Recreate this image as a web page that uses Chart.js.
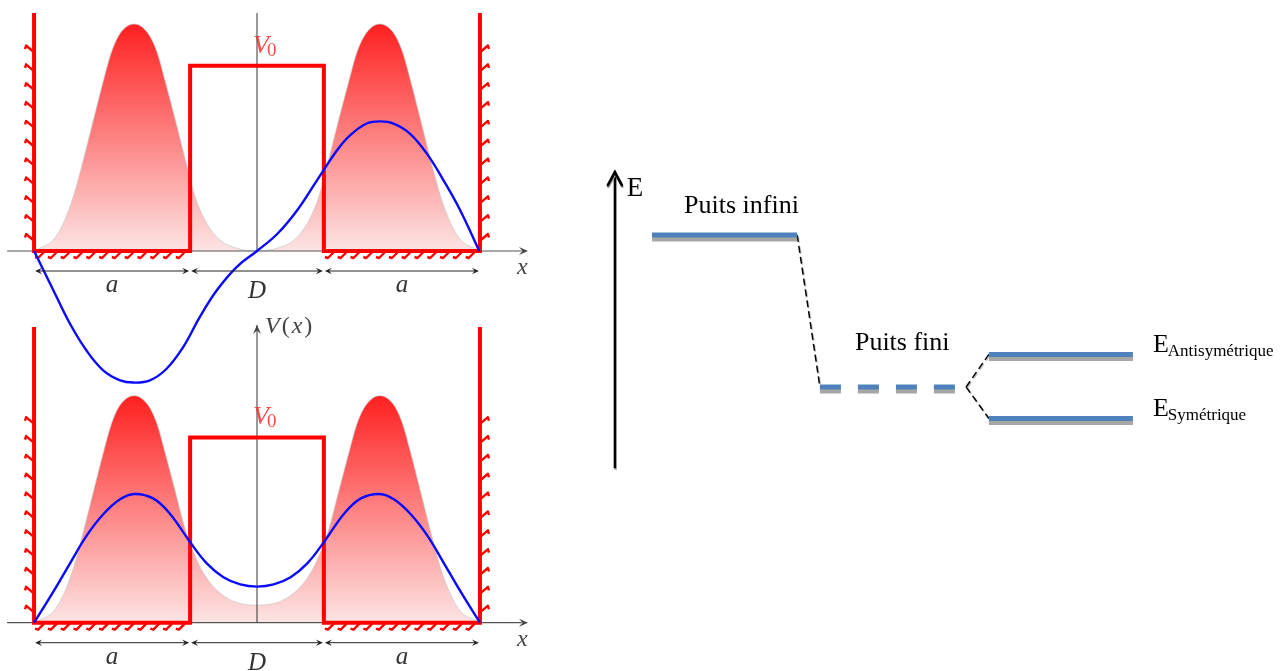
<!DOCTYPE html>
<html>
<head>
<meta charset="utf-8">
<script src="https://cdn.jsdelivr.net/npm/chart.js@4.4.1/dist/chart.umd.min.js"></script>
<style>
  html, body { margin: 0; padding: 0; background: #fff; }
  body { width: 1282px; height: 671px; position: relative; overflow: hidden; }
  canvas { position: absolute; }
  #upperWell { left: 0; top: 0; }
  #lowerWell { left: 0; top: 300px; }
  #levels { left: 560px; top: 150px; }
</style>
</head>
<body>
<canvas id="upperWell" width="540" height="400"></canvas>
<canvas id="lowerWell" width="540" height="371"></canvas>
<canvas id="levels" width="722" height="350"></canvas>
<script>
// double well geometry (same unit on x and y)
const wallX = 7.1;
const barrierX = 2.13;
const V0 = 5.9;
const wallTop = [7.58, 9.42];   // upper panel, lower panel
const yAxisTop = [7.58, 9.48];
const xAxisRange = [-7.96, 8.63];
const spanLabels = ["a", "D", "a"];

// |psi|^2, antisymmetric state (upper panel)
const densityAnti = [
  [-7.1, 0], [-6.91, 0.09], [-6.49, 0.35], [-6.17, 0.88], [-5.85, 1.73], [-5.53, 2.9],
  [-5.21, 4.17], [-4.9, 5.39], [-4.63, 6.35], [-4.36, 6.93], [-3.91, 7.23], [-3.47, 6.93],
  [-3.19, 6.35], [-2.92, 5.39], [-2.6, 4.17], [-2.28, 2.9], [-1.97, 1.73], [-1.6, 0.88],
  [-1.18, 0.35], [-0.65, 0.09], [0, 0], [0.65, 0.09], [1.18, 0.35], [1.6, 0.88],
  [1.97, 1.73], [2.28, 2.9], [2.6, 4.17], [2.92, 5.39], [3.19, 6.35], [3.47, 6.93],
  [3.91, 7.23], [4.36, 6.93], [4.63, 6.35], [4.9, 5.39], [5.21, 4.17], [5.53, 2.9],
  [5.85, 1.73], [6.17, 0.88], [6.49, 0.35], [6.91, 0.09], [7.1, 0]
];

// |psi|^2, symmetric state (lower panel)
const densitySym = [
  [-7.1, 0], [-6.91, 0.09], [-6.49, 0.35], [-6.17, 0.88], [-5.85, 1.73], [-5.53, 2.9],
  [-5.21, 4.17], [-4.9, 5.39], [-4.63, 6.35], [-4.36, 6.93], [-3.91, 7.23], [-3.47, 6.93],
  [-3.19, 6.35], [-2.92, 5.39], [-2.6, 4.17], [-2.28, 2.95], [-1.92, 2.0], [-1.56, 1.36],
  [-1.17, 0.94], [-0.64, 0.64], [0, 0.56], [0.64, 0.64], [1.17, 0.94], [1.56, 1.36],
  [1.92, 2.0], [2.28, 2.95], [2.6, 4.17], [2.92, 5.39], [3.19, 6.35], [3.47, 6.93],
  [3.91, 7.23], [4.36, 6.93], [4.63, 6.35], [4.9, 5.39], [5.21, 4.17], [5.53, 2.9],
  [5.85, 1.73], [6.17, 0.88], [6.49, 0.35], [6.91, 0.09], [7.1, 0]
];

// wave functions
const psiAnti = [
  [-7.1, 0], [-6.49, -1.24], [-5.96, -2.31], [-5.43, -3.17], [-4.9, -3.8], [-4.36, -4.12],
  [-3.94, -4.19], [-3.41, -4.12], [-2.88, -3.75], [-2.35, -3.06], [-1.82, -2.1], [-1.28, -1.25],
  [-0.65, -0.51], [0, 0], [0.65, 0.55], [1.28, 1.3], [1.91, 2.25], [2.55, 3.21],
  [2.97, 3.69], [3.49, 4.06], [3.93, 4.13], [4.35, 4.06], [4.87, 3.74], [5.41, 3.1],
  [5.94, 2.25], [6.47, 1.3], [7.08, 0]
];
const psiSym = [
  [-7.1, 0], [-6.49, 0.98], [-5.95, 1.9], [-5.42, 2.78], [-4.89, 3.46], [-4.36, 3.93],
  [-3.91, 4.1], [-3.31, 3.96], [-2.78, 3.48], [-2.14, 2.58], [-1.6, 1.89], [-1.07, 1.45],
  [-0.53, 1.22], [0, 1.15], [0.53, 1.22], [1.07, 1.45], [1.6, 1.89], [2.14, 2.58],
  [2.78, 3.48], [3.31, 3.96], [3.91, 4.1], [4.36, 3.93], [4.89, 3.46], [5.42, 2.78],
  [5.95, 1.9], [6.49, 0.98], [7.1, 0]
];

// energy diagram
const levelLabels = ["Puits infini", "Puits fini", "Antisymétrique", "Symétrique"];
const levelEnergy = [7.57, 3.23, 4.16, 2.33];
const levelFrom = [2.55, 7.2, 11.88, 11.88];
const levelTo = [6.57, 11.25, 15.87, 15.87];
const levelLinks = [[0, 1], [1, 2], [1, 3]];
const energyAxis = { x: 1.52, from: 0.91, to: 9.37, label: "E" };

const pts = (arr) => arr.map(([x, y]) => ({ x, y }));

function strokePath(ctx, p) {
  ctx.beginPath();
  ctx.moveTo(p[0][0], p[0][1]);
  for (let i = 1; i < p.length; i++) ctx.lineTo(p[i][0], p[i][1]);
  ctx.stroke();
}

function arrowHead(ctx, tx, ty, dx, dy, len, half) {
  const nx = -dy, ny = dx;
  ctx.beginPath();
  ctx.moveTo(tx, ty);
  ctx.lineTo(tx - dx * len + nx * half, ty - dy * len + ny * half);
  ctx.lineTo(tx - dx * len * 0.6, ty - dy * len * 0.6);
  ctx.lineTo(tx - dx * len - nx * half, ty - dy * len - ny * half);
  ctx.closePath();
  ctx.fill();
}

const wellDecor = {
  id: "wellDecor",
  beforeDatasetsDraw(chart, args, opts) {
    const { ctx, scales: { x, y } } = chart;
    const y0 = y.getPixelForValue(0);
    const xl = x.getPixelForValue(-wallX), xr = x.getPixelForValue(wallX);
    const bl = x.getPixelForValue(-barrierX), br = x.getPixelForValue(barrierX);
    ctx.save();
    ctx.strokeStyle = "#ff0000";
    ctx.lineWidth = 2.4;
    ctx.lineCap = "butt";
    ctx.lineJoin = "round";
    for (let k = 0; k < 11; k++) {
      const py = y0 - 12 - k * 18.85;
      strokePath(ctx, [[xl - 1, py + 1], [xl - 8, py - 5], [xl - 9, py - 1.5]]);
      strokePath(ctx, [[xr + 1, py + 1], [xr + 8, py - 5], [xr + 9, py - 1.5]]);
    }
    for (let px = xl + 10; px <= bl + 1; px += 12.8) {
      strokePath(ctx, [[px, y0 + 1], [px - 6, y0 + 7], [px - 9, y0 + 6]]);
    }
    for (let px = br + 10; px <= xr + 1; px += 12.8) {
      strokePath(ctx, [[px, y0 + 1], [px - 6, y0 + 7], [px - 9, y0 + 6]]);
    }
    ctx.restore();
  },
  afterDatasetsDraw(chart, args, opts) {
    const { ctx, scales: { x, y } } = chart;
    const panel = opts.panel;
    const y0 = y.getPixelForValue(0);
    const cx = x.getPixelForValue(0);
    ctx.save();
    // x axis arrow head
    ctx.fillStyle = "#444";
    arrowHead(ctx, x.getPixelForValue(xAxisRange[1]), y0, 1, 0, 9, 4);
    // V(x) axis arrow head
    if (panel === 1) arrowHead(ctx, cx, y.getPixelForValue(yAxisTop[1]), 0, -1, 9, 4);

    // dimension arrows
    const edges = [-wallX, -barrierX, barrierX, wallX].map((v) => x.getPixelForValue(v));
    const dy = y0 + 20;
    ctx.strokeStyle = "#222";
    ctx.fillStyle = "#222";
    ctx.lineWidth = 1;
    for (let i = 0; i < 3; i++) {
      const a = edges[i] + 1, b = edges[i + 1] - 1;
      strokePath(ctx, [[a + 3, dy], [b - 3, dy]]);
      arrowHead(ctx, a, dy, -1, 0, 7, 3.2);
      arrowHead(ctx, b, dy, 1, 0, 7, 3.2);
      ctx.font = 'italic 25px "Liberation Serif"';
      ctx.textAlign = "center";
      ctx.fillStyle = "#333";
      ctx.fillText(spanLabels[i], (edges[i] + edges[i + 1]) / 2, spanLabels[i] === "D" ? y0 + 47 : y0 + 41);
      ctx.fillStyle = "#222";
    }

    // x label
    ctx.textAlign = "left";
    ctx.fillStyle = "#444";
    ctx.font = 'italic 24px "Liberation Serif"';
    ctx.fillText("x", x.getPixelForValue(xAxisRange[1]) - 11, y0 + 23);

    // V0 label
    const vy = y.getPixelForValue(V0) - 13;
    ctx.fillStyle = "rgba(255, 40, 40, 0.85)";
    ctx.font = 'italic 26px "Liberation Serif"';
    ctx.fillText("V", cx - 4, vy);
    const vw = ctx.measureText("V").width;
    ctx.font = '19px "Liberation Serif"';
    ctx.fillText("0", cx - 4 + vw - 2, vy + 3);

    // V(x) label
    if (panel === 1) {
      const ty = y.getPixelForValue(yAxisTop[1]) + 8;
      let tx = cx + 8;
      ctx.fillStyle = "#444";
      const parts = [["V", "italic 24px"], ["(", "24px"], ["x", "italic 24px"], [")", "24px"]];
      for (const [s, f] of parts) {
        ctx.font = f + ' "Liberation Serif"';
        ctx.fillText(s, tx, ty);
        tx += ctx.measureText(s).width + 2;
      }
    }
    ctx.restore();
  }
};

function densityFill(peakArr) {
  const peak = Math.max(...peakArr.map((p) => p[1]));
  return (c) => {
    const chart = c.chart;
    if (!chart.chartArea) return "rgba(255,80,80,0.5)";
    const ys = chart.scales.y;
    const g = chart.ctx.createLinearGradient(0, ys.getPixelForValue(peak), 0, ys.getPixelForValue(0));
    g.addColorStop(0, "rgb(255, 32, 32)");
    g.addColorStop(1, "rgb(252, 228, 228)");
    return g;
  };
}

function wellChart(id, panel) {
  const density = panel === 0 ? densityAnti : densitySym;
  const psi = panel === 0 ? psiAnti : psiSym;
  const top = wallTop[panel];
  const yRange = panel === 0 ? [-4.745, 7.994] : [-1.538, 10.277];
  return new Chart(document.getElementById(id), {
    type: "line",
    data: {
      datasets: [
        {
          data: pts(psi),
          borderColor: "#0a0aff",
          borderWidth: 2.4,
          tension: 0.4,
          order: 0,
        },
        {
          data: pts([[-wallX, top], [-wallX, 0], [-barrierX, 0], [-barrierX, V0], [barrierX, V0],
            [barrierX, 0], [wallX, 0], [wallX, top]]),
          borderColor: "#ff0000",
          borderWidth: 4,
          borderJoinStyle: "miter",
          tension: 0,
          order: 1,
        },
        {
          data: pts([[0, 0], [0, yAxisTop[panel]]]),
          borderColor: "#333",
          borderWidth: 1,
          order: 2,
        },
        {
          data: pts([[xAxisRange[0], 0], [xAxisRange[1] - 0.2, 0]]),
          borderColor: "#555",
          borderWidth: 1.2,
          order: 3,
        },
        {
          data: pts(density),
          borderColor: "rgba(200, 200, 200, 0.7)",
          borderWidth: 1,
          backgroundColor: densityFill(density),
          fill: "origin",
          cubicInterpolationMode: "monotone",
          order: 4,
        },
      ],
    },
    options: {
      responsive: false,
      animation: false,
      events: [],
      clip: false,
      elements: { point: { radius: 0 } },
      scales: {
        x: { type: "linear", min: -8.185, max: 9.013, display: false },
        y: { type: "linear", min: yRange[0], max: yRange[1], display: false },
      },
      plugins: {
        legend: { display: false },
        tooltip: { enabled: false },
        wellDecor: { panel },
      },
    },
    plugins: [wellDecor],
  });
}

const levelDecor = {
  id: "levelDecor",
  beforeDatasetDraw(chart, args) {
    const ds = chart.data.datasets[args.index];
    if (!ds.shadowColor) return;
    const ctx = chart.ctx;
    ctx.save();
    ctx.shadowColor = ds.shadowColor;
    ctx.shadowOffsetX = ds.shadowX || 0;
    ctx.shadowOffsetY = ds.shadowY || 0;
    ctx.shadowBlur = 0;
  },
  afterDatasetDraw(chart, args) {
    if (chart.data.datasets[args.index].shadowColor) chart.ctx.restore();
  },
  afterDatasetsDraw(chart) {
    const { ctx, scales: { x, y } } = chart;
    const ax = x.getPixelForValue(energyAxis.x);
    const tip = y.getPixelForValue(energyAxis.to);
    ctx.save();
    ctx.lineWidth = 2.6;
    ctx.lineCap = "round";
    ctx.lineJoin = "miter";
    ctx.strokeStyle = "#9a9a9a";
    strokePath(ctx, [[ax - 6.5, tip + 14.5], [ax + 0.5, tip + 1.5], [ax + 7.5, tip + 14.5]]);
    ctx.strokeStyle = "#000";
    strokePath(ctx, [[ax - 7, tip + 13], [ax, tip], [ax + 7, tip + 13]]);

    ctx.fillStyle = "#000";
    ctx.textAlign = "left";
    ctx.font = '27px "Liberation Serif"';
    ctx.fillText(energyAxis.label, ax + 12, tip + 24);

    ctx.font = '26px "Liberation Serif"';
    ctx.fillText(levelLabels[0], x.getPixelForValue(levelFrom[0]) + 32, y.getPixelForValue(levelEnergy[0]) - 22);
    ctx.fillText(levelLabels[1], x.getPixelForValue(levelFrom[1]) + 35, y.getPixelForValue(levelEnergy[1]) - 37);

    for (const i of [2, 3]) {
      const lx = x.getPixelForValue(levelTo[i]) + 20;
      const ly = y.getPixelForValue(levelEnergy[i]) - 2;
      ctx.font = '26px "Liberation Serif"';
      ctx.fillText("E", lx, ly);
      const w = ctx.measureText("E").width;
      ctx.font = '17px "Liberation Serif"';
      ctx.fillText(levelLabels[i], lx + w - 1, ly + 4);
    }
    ctx.restore();
  },
};

function levelChart(id) {
  const datasets = [];
  levelEnergy.forEach((e, i) => {
    datasets.push({
      data: pts([[levelFrom[i], e], [levelTo[i], e]]),
      borderColor: "#4f81bd",
      borderWidth: 5,
      borderDash: i === 1 ? [21, 17] : [],
      shadowColor: "#a6a6a6",
      shadowY: 4,
    });
  });
  levelLinks.forEach(([a, b]) => {
    datasets.push({
      data: pts([[levelTo[a], levelEnergy[a]], [levelFrom[b], levelEnergy[b]]]),
      borderColor: "#000",
      borderWidth: 1.5,
      borderDash: [7, 4],
      shadowColor: "rgba(150,150,150,0.6)",
      shadowX: 1,
      shadowY: 1,
    });
  });
  datasets.push({
    data: pts([[energyAxis.x, energyAxis.from], [energyAxis.x, energyAxis.to]]),
    borderColor: "#000",
    borderWidth: 2.4,
    shadowColor: "#9a9a9a",
    shadowX: 0.8,
    shadowY: 1.5,
  });
  return new Chart(document.getElementById(id), {
    type: "line",
    data: { datasets },
    options: {
      responsive: false,
      animation: false,
      events: [],
      elements: { point: { radius: 0 }, line: { tension: 0 } },
      scales: {
        x: { type: "linear", min: 0, max: 20, display: false },
        y: { type: "linear", min: 0, max: 10, display: false },
      },
      plugins: { legend: { display: false }, tooltip: { enabled: false } },
    },
    plugins: [levelDecor],
  });
}

wellChart("upperWell", 0);
wellChart("lowerWell", 1);
levelChart("levels");
</script>
</body>
</html>
